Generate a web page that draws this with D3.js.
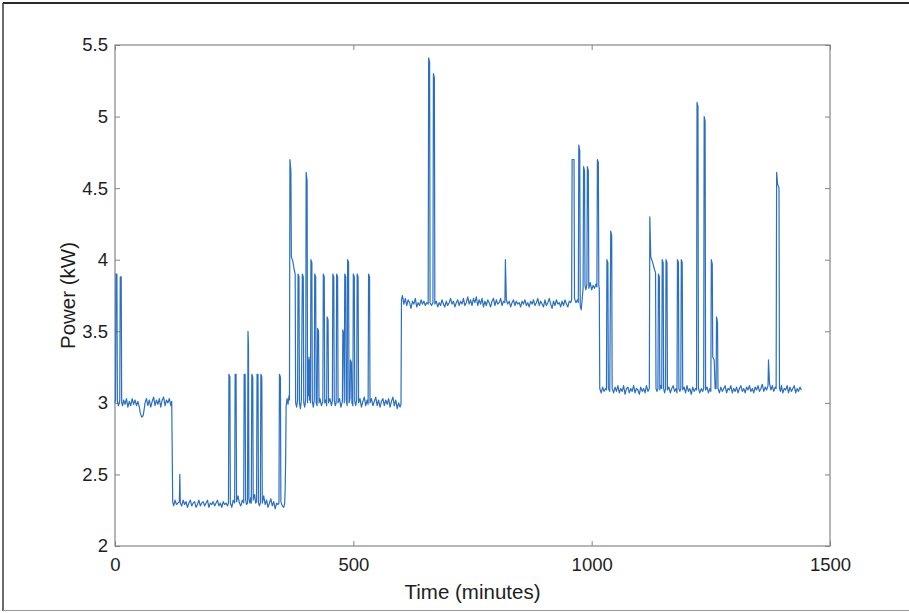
<!DOCTYPE html>
<html>
<head>
<meta charset="utf-8">
<script src="https://cdn.jsdelivr.net/npm/d3@7"></script>
<style>
  html, body { margin: 0; padding: 0; background: #fff; }
  svg { display: block; font-family: "Liberation Sans", Arial, Helvetica, sans-serif; }
</style>
</head>
<body>
<svg id="chart" width="909" height="613"></svg>
<script>
// ---- data (minute, kW) ----
const xTicks = [0, 500, 1000, 1500];
const yTicks = [2, 2.5, 3, 3.5, 4, 4.5, 5, 5.5];
const xLabel = "Time (minutes)";
const yLabel = "Power (kW)";

const readingsMorning = [
  [0,3.0],[1,3.02],[2,3.9],[4,3.9],[5,3.01],[7,2.98],[9,3.0],[10,3.02],[11,3.88],[13,3.88],[14,3.0],
  [16,2.98],[18,3.02],[21,2.99],[24,3.03],[27,2.97],[30,3.01],[33,2.98],[36,3.03],[39,2.99],[42,3.02],
  [45,2.98],[48,3.01],[51,2.97],[53,2.93],[56,2.9],[59,2.91],[61,2.95],[63,3.0],[66,3.03],[69,2.98],
  [72,3.02],[75,2.97],[78,3.01],[81,3.04],[84,2.98],[87,3.02],[90,2.99],[93,3.03],[96,2.97],[99,3.02],
  [102,3.04],[105,2.98],[108,3.02],[111,3.0],[114,3.03],[117,2.98],[119,3.01],
  [121,2.31],[123,2.28],[126,2.32],[129,2.29],[132,2.3],[135,2.31],[136,2.5],[137,2.3],[140,2.28],
  [143,2.32],[146,2.29],[149,2.31],[152,2.27],[155,2.3],[158,2.32],[161,2.28],[164,2.3],[167,2.31],
  [170,2.27],[173,2.29],[176,2.32],[179,2.28],[182,2.3],[185,2.31],[188,2.28],[191,2.3],[194,2.32],
  [197,2.27],[200,2.3],[203,2.29],[206,2.31],[209,2.28],[212,2.3],[215,2.32],[218,2.28],[221,2.3],
  [224,2.27],[227,2.31],[230,2.29],[233,2.3],[236,2.28],[238,2.3],[239,3.2],[241,3.18],[242,2.3],
  [245,2.27],[248,2.32],[251,2.3],[252,3.2],[254,3.2],[255,2.31],[258,2.35],[261,2.3],[264,2.28],
  [267,2.32],[270,2.3],[271,3.2],[273,3.2],[274,2.32],[276,2.29],[278,2.3],[279,3.5],[280,3.4],
  [281,2.33],[283,2.3],[285,2.34],[286,2.3],[287,3.2],[289,3.18],[290,2.32],[293,2.36],[295,2.3],
  [297,2.31],[298,3.2],[300,3.2],[301,2.3],[303,2.28],[305,2.3],[306,3.2],[308,3.18],[309,2.3],
  [312,2.35],[315,2.29],[318,2.32],[321,2.27],[324,2.3],[327,2.33],[330,2.28],[333,2.31],[336,2.26],
  [339,2.3],[342,2.29],[344,2.3],[345,3.2],[347,3.18],[348,2.31],[351,2.28],[354,2.27],[356,2.3],
  [357,2.4],[358,2.6]
];

const readingsMidday = [
  [359,2.98],[361,3.03],[363,2.99],[365,3.05],[366,3.02],[367,4.7],[369,4.62],[370,4.02],[373,3.99],
  [376,3.93],[378,3.9],[379,3.0],[381,2.97],[383,3.02],[384,3.9],[386,3.88],[387,3.0],[389,2.96],
  [391,3.02],[393,3.9],[395,3.88],[396,3.0],[398,2.97],[400,3.02],[401,4.61],[403,4.55],[404,3.0],
  [405,3.3],[406,3.05],[407,3.32],[408,3.02],[409,3.3],[410,3.0],[411,4.0],[413,3.98],[414,3.01],
  [416,2.97],[418,3.02],[419,3.9],[421,3.88],[422,3.0],[424,2.98],[425,3.52],[427,3.5],[428,3.0],
  [430,3.03],[433,2.98],[436,3.01],[437,3.9],[439,3.88],[440,3.0],[442,3.02],[444,2.98],[445,3.6],
  [447,3.58],[448,3.0],[451,3.03],[454,2.98],[456,3.01],[457,3.9],[459,3.88],[460,3.02],[462,2.98],
  [464,3.0],[465,3.9],[467,3.88],[468,3.0],[471,3.03],[474,2.97],[477,3.01],[478,3.51],[480,3.48],
  [481,3.0],[482,3.9],[484,3.88],[485,3.02],[487,2.98],[488,4.0],[490,3.98],[491,3.0],[493,3.03],
  [494,3.3],[496,3.28],[497,3.0],[499,2.98],[500,3.9],[502,3.88],[503,3.01],[505,2.98],[507,3.02],
  [508,3.9],[510,3.88],[511,3.0],[514,3.03],[517,2.97],[520,3.01],[523,3.04],[526,2.98],[529,3.02],
  [531,2.99],[532,3.9],[534,3.88],[535,3.0],[538,3.03],[541,2.98],[544,3.01],[547,3.04],[550,2.98],
  [553,3.02],[556,2.97],[559,3.01],[562,3.03],[565,2.98],[568,3.02],[571,2.99],[574,3.03],[577,2.97],
  [580,3.01],[583,3.04],[586,2.98],[589,3.02],[592,2.96],[595,3.0],[598,2.97],[600,2.99]
];

const readingsAfternoon = [
  [601,3.72],[603,3.75],[606,3.69],[609,3.73],[612,3.68],[615,3.72],[618,3.7],[621,3.66],[624,3.71],
  [627,3.69],[630,3.73],[633,3.67],[636,3.7],[639,3.68],[642,3.72],[645,3.69],[648,3.71],[651,3.68],
  [654,3.7],[657,3.69],[658,5.41],[660,5.38],[661,3.7],[664,3.68],[667,3.7],[668,5.3],[670,5.27],
  [671,3.69],[674,3.71],[677,3.67],[680,3.7],[683,3.68],[686,3.72],[689,3.69],[692,3.67],[695,3.71],
  [698,3.68],[701,3.7],[704,3.73],[707,3.69],[710,3.71],[713,3.67],[716,3.7],[719,3.72],[722,3.68],
  [725,3.71],[728,3.69],[731,3.73],[734,3.68],[737,3.7],[740,3.74],[743,3.69],[746,3.72],[749,3.68],
  [752,3.73],[755,3.7],[758,3.74],[761,3.68],[764,3.72],[767,3.69],[770,3.73],[773,3.67],[776,3.71],
  [779,3.68],[782,3.72],[785,3.7],[788,3.67],[791,3.71],[794,3.73],[797,3.68],[800,3.72],[803,3.69],
  [806,3.7],[809,3.73],[812,3.68],[815,3.71],[818,3.7],[819,4.0],[821,3.72],[824,3.69],[827,3.71],
  [830,3.67],[833,3.7],[836,3.72],[839,3.68],[842,3.71],[845,3.69],[848,3.7],[851,3.67],[854,3.71],
  [857,3.69],[860,3.72],[863,3.68],[866,3.7],[869,3.67],[872,3.71],[875,3.69],[878,3.72],[881,3.68],
  [884,3.7],[887,3.73],[890,3.68],[893,3.71],[896,3.69],[899,3.67],[902,3.72],[905,3.68],[908,3.7],
  [911,3.73],[914,3.69],[917,3.66],[920,3.71],[923,3.68],[926,3.72],[929,3.69],[932,3.7],[935,3.67],
  [938,3.71],[941,3.68],[944,3.72],[947,3.69],[950,3.67],[953,3.71],[956,3.7],[958,3.72],[959,4.7],
  [963,4.7],[964,3.73],[967,3.7],[970,3.72],[972,3.7],[973,4.8],[975,4.76],[976,3.68],[978,3.65],
  [980,3.72],[982,3.8],[983,4.65],[985,4.62],[986,3.82],[988,3.79],[990,3.83],[991,4.65],[993,4.62],
  [994,3.8],[997,3.84],[1000,3.79],[1003,3.82],[1006,3.8],[1009,3.83],[1011,3.81],[1012,4.7],
  [1014,4.68],[1015,3.82],[1016,3.8]
];

const readingsEvening = [
  [1017,3.1],[1020,3.07],[1023,3.11],[1026,3.08],[1029,3.1],[1031,3.09],[1032,4.0],[1034,3.98],
  [1035,3.1],[1038,3.08],[1040,4.2],[1042,4.17],[1043,3.1],[1046,3.07],[1049,3.11],[1052,3.08],
  [1055,3.12],[1058,3.07],[1061,3.1],[1064,3.08],[1067,3.12],[1070,3.06],[1073,3.1],[1076,3.11],
  [1079,3.07],[1082,3.1],[1085,3.08],[1088,3.12],[1091,3.07],[1094,3.1],[1097,3.09],[1100,3.06],
  [1103,3.11],[1106,3.08],[1109,3.1],[1112,3.07],[1115,3.12],[1118,3.08],[1121,3.1],[1122,4.3],
  [1124,4.02],[1128,3.98],[1132,3.93],[1134,3.91],[1135,3.1],[1137,3.08],[1139,3.1],[1140,3.9],
  [1142,3.88],[1143,3.09],[1145,3.12],[1147,3.1],[1148,4.0],[1150,3.98],[1151,3.1],[1153,3.07],
  [1155,3.1],[1156,4.0],[1158,3.98],[1159,3.09],[1162,3.11],[1165,3.07],[1168,3.1],[1171,3.12],
  [1174,3.08],[1177,3.1],[1179,3.07],[1180,4.0],[1182,3.98],[1183,3.1],[1185,3.08],[1187,3.1],
  [1188,4.0],[1190,3.98],[1191,3.09],[1194,3.11],[1197,3.07],[1200,3.12],[1203,3.08],[1206,3.1],
  [1209,3.06],[1212,3.11],[1215,3.08],[1218,3.1],[1220,3.09],[1221,5.1],[1223,5.07],[1224,3.1],
  [1227,3.07],[1230,3.1],[1233,3.08],[1235,3.1],[1236,5.0],[1238,4.97],[1239,3.09],[1242,3.11],
  [1245,3.07],[1248,3.1],[1250,3.08],[1251,4.0],[1253,3.97],[1254,3.32],[1257,3.3],[1259,3.1],
  [1261,3.1],[1262,3.6],[1264,3.56],[1265,3.1],[1268,3.07],[1271,3.11],[1274,3.08],[1277,3.1],
  [1280,3.12],[1283,3.07],[1286,3.1],[1289,3.09],[1292,3.12],[1295,3.07],[1298,3.1],[1301,3.08],
  [1304,3.11],[1307,3.07],[1310,3.1],[1313,3.12],[1316,3.08],[1319,3.1],[1322,3.07],[1325,3.11],
  [1328,3.09],[1331,3.12],[1334,3.08],[1337,3.1],[1340,3.07],[1343,3.11],[1346,3.09],[1349,3.12],
  [1352,3.08],[1355,3.1],[1358,3.13],[1361,3.08],[1364,3.11],[1367,3.09],[1370,3.12],[1371,3.3],
  [1373,3.14],[1376,3.09],[1379,3.12],[1382,3.08],[1385,3.11],[1387,3.1],[1388,4.61],[1390,4.53],
  [1393,4.5],[1394,3.1],[1396,3.08],[1398,3.12],[1401,3.07],[1404,3.1],[1407,3.09],[1410,3.12],
  [1413,3.07],[1416,3.11],[1419,3.08],[1422,3.1],[1425,3.12],[1428,3.07],[1431,3.1],[1434,3.08],
  [1437,3.11],[1440,3.09]
];

const readings = [].concat(readingsMorning, readingsMidday, readingsAfternoon, readingsEvening);

// ---- drawing ----
const svg = d3.select("#chart");
const W = 909, H = 613;
const plot = { left: 115, right: 830, top: 45, bottom: 546 };

// page frame
svg.append("line").attr("x1", 3).attr("x2", W).attr("y1", 3).attr("y2", 3)
  .attr("stroke", "#2a2a2a").attr("stroke-width", 2);
svg.append("line").attr("x1", 3).attr("x2", 3).attr("y1", 3).attr("y2", 611)
  .attr("stroke", "#3a3a3a").attr("stroke-width", 1.5);
svg.append("line").attr("x1", 3).attr("x2", W).attr("y1", 610.5).attr("y2", 610.5)
  .attr("stroke", "#9a9a9a").attr("stroke-width", 1.2);

const x = d3.scaleLinear().domain([0, 1500]).range([plot.left, plot.right]);
const y = d3.scaleLinear().domain([2, 5.5]).range([plot.bottom, plot.top]);
const fmt = d => String(d);

const axisColor = "#858585";
const tickFont = 18.5;

function styleAxis(g) {
  g.select(".domain").remove();
  g.selectAll(".tick line").attr("stroke", axisColor).attr("stroke-width", 1);
  g.selectAll(".tick text").attr("fill", "#1e1e1e").attr("font-size", tickFont)
    .attr("font-family", "'Liberation Sans', Arial, sans-serif");
}

// bottom & top
svg.append("g").attr("transform", `translate(0,${plot.bottom})`)
  .call(d3.axisBottom(x).tickValues(xTicks).tickSize(-5).tickPadding(12).tickFormat(fmt))
  .call(styleAxis);
svg.append("g").attr("transform", `translate(0,${plot.top})`)
  .call(d3.axisTop(x).tickValues(xTicks).tickSize(-5).tickFormat(""))
  .call(styleAxis);
// left & right
svg.append("g").attr("transform", `translate(${plot.left},0)`)
  .call(d3.axisLeft(y).tickValues(yTicks).tickSize(-5).tickPadding(7).tickFormat(fmt))
  .call(styleAxis);
svg.append("g").attr("transform", `translate(${plot.right},0)`)
  .call(d3.axisRight(y).tickValues(yTicks).tickSize(-5).tickFormat(""))
  .call(styleAxis);

// box
svg.append("rect")
  .attr("x", plot.left).attr("y", plot.top)
  .attr("width", plot.right - plot.left).attr("height", plot.bottom - plot.top)
  .attr("fill", "none").attr("stroke", axisColor).attr("stroke-width", 1.2);

// line
const line = d3.line().x(d => x(d[0])).y(d => y(d[1]));
svg.append("path").datum(readings)
  .attr("d", line)
  .attr("fill", "none")
  .attr("stroke", "#2a6fc2")
  .attr("stroke-width", 1.2)
  .attr("stroke-linejoin", "round");

// axis labels
svg.append("text").attr("x", (plot.left + plot.right) / 2).attr("y", 599)
  .attr("text-anchor", "middle").attr("font-size", 20.5).attr("fill", "#1e1e1e")
  .text(xLabel);
svg.append("text").attr("transform", `translate(75,${(plot.top + plot.bottom) / 2}) rotate(-90)`)
  .attr("text-anchor", "middle").attr("font-size", 20.5).attr("fill", "#1e1e1e")
  .text(yLabel);
</script>
</body>
</html>
